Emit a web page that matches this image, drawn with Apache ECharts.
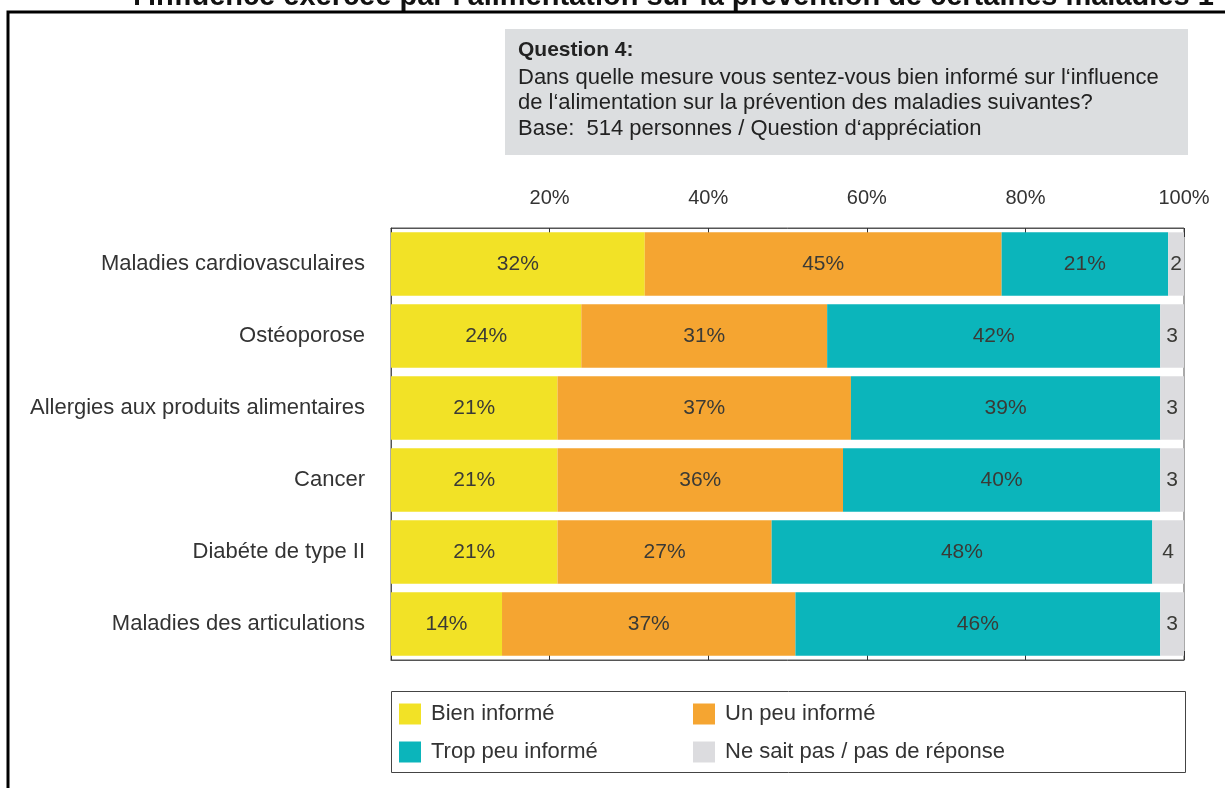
<!DOCTYPE html>
<html>
<head>
<meta charset="utf-8">
<script src="https://cdn.jsdelivr.net/npm/echarts@6/dist/echarts.min.js"></script>
<style>
html,body{margin:0;padding:0;background:#fff;}
#chart{width:1225px;height:788px;}
</style>
</head>
<body>
<div id="chart"></div>
<script>
const categories = [
  "Maladies cardiovasculaires",
  "Ostéoporose",
  "Allergies aux produits alimentaires",
  "Cancer",
  "Diabéte de type II",
  "Maladies des articulations"
];
const bienInforme   = [32, 24, 21, 21, 21, 14];
const unPeuInforme  = [45, 31, 37, 36, 27, 37];
const tropPeuInforme= [21, 42, 39, 40, 48, 46];
const neSaitPas     = [2, 3, 3, 3, 4, 3];
const seriesNames = ["Bien informé", "Un peu informé", "Trop peu informé", "Ne sait pas / pas de réponse"];
const tickValues = [20, 40, 60, 80, 100];
const titleText = "l'influence exercée par l'alimentation sur la prévention de certaines maladies 1";
const questionLines = [
  "Question 4:",
  "Dans quelle mesure vous sentez-vous bien informé sur l‘influence",
  "de l‘alimentation sur la prévention des maladies suivantes?",
  "Base:  514 personnes / Question d‘appréciation"
];

const colors = ["#f2e226", "#f5a531", "#0bb5bb", "#dcdcdf"];
const FONT = "Liberation Sans, Arial, Helvetica, sans-serif";

const chart = echarts.init(document.getElementById('chart'), null, {renderer: 'canvas'});

function mkSeries(name, data, color, pct) {
  return {
    name: name,
    type: 'bar',
    stack: 'total',
    data: data,
    barCategoryGap: '12%',
    itemStyle: {color: color},
    label: {
      show: true,
      position: 'inside',
      formatter: pct ? '{c}%' : '{c}',
      color: '#3a3a36',
      fontFamily: FONT,
      fontSize: 21
    },
    emphasis: {disabled: true}
  };
}

const graphics = [
  {type: 'text', x: 133, y: 11, style: {text: titleText, font: 'bold 29px ' + FONT, fill: '#111', textVerticalAlign: 'bottom'}, z: 0},
  {type: 'rect', shape: {x: 8, y: 12, width: 1240, height: 800}, style: {fill: 'none', stroke: '#000', lineWidth: 3}, z: 1},
  {type: 'rect', shape: {x: 505, y: 29, width: 683, height: 126}, style: {fill: '#dcdee0'}, z: 1},
  {type: 'rect', shape: {x: 391.5, y: 691.5, width: 794, height: 81}, style: {fill: 'none', stroke: '#444', lineWidth: 1}, z: 1}
];
const lineY = [50, 78, 103, 129];
questionLines.forEach((t, i) => {
  graphics.push({
    type: 'text', x: 518, y: lineY[i], z: 2,
    style: {text: t, font: (i === 0 ? 'bold 21px ' : '22px ') + FONT, fill: '#222', textVerticalAlign: 'middle'}
  });
});

const legendBase = {
  orient: 'vertical',
  itemWidth: 22,
  itemHeight: 21,
  itemGap: 16,
  icon: 'rect',
  selectedMode: false,
  textStyle: {fontFamily: FONT, fontSize: 22, color: '#333', padding: [0, 0, 0, 5]},
  padding: 0
};

chart.setOption({
  animation: false,
  backgroundColor: '#fff',
  graphic: graphics,
  legend: [
    Object.assign({}, legendBase, {left: 399, top: 703, data: [seriesNames[0], seriesNames[2]]}),
    Object.assign({}, legendBase, {left: 693, top: 703, data: [seriesNames[1], seriesNames[3]]})
  ],
  grid: {
    left: 391, right: 41, top: 228, bottom: 128,
    show: true, borderColor: '#555', borderWidth: 1, containLabel: false
  },
  xAxis: [
    {
      type: 'value', position: 'top', min: 0, max: 100, interval: 20,
      axisLine: {show: true, lineStyle: {color: '#555'}},
      axisTick: {show: true, inside: true, length: 9, lineStyle: {color: '#333'}},
      splitLine: {show: false},
      axisLabel: {
        margin: 20, fontFamily: FONT, fontSize: 20, color: '#333',
        formatter: v => tickValues.indexOf(v) >= 0 ? v + '%' : ''
      }
    },
    {
      type: 'value', position: 'bottom', min: 0, max: 100, interval: 20,
      axisLine: {show: true, lineStyle: {color: '#555'}},
      axisTick: {show: true, inside: true, length: 9, lineStyle: {color: '#333'}},
      splitLine: {show: false},
      axisLabel: {show: false}
    }
  ],
  yAxis: {
    type: 'category', data: categories, inverse: true,
    axisLine: {show: true, lineStyle: {color: '#555'}},
    axisTick: {show: false},
    axisLabel: {margin: 26, fontFamily: FONT, fontSize: 22, color: '#333'}
  },
  series: [
    mkSeries(seriesNames[0], bienInforme, colors[0], true),
    mkSeries(seriesNames[1], unPeuInforme, colors[1], true),
    mkSeries(seriesNames[2], tropPeuInforme, colors[2], true),
    mkSeries(seriesNames[3], neSaitPas, colors[3], false)
  ]
});
</script>
</body>
</html>
